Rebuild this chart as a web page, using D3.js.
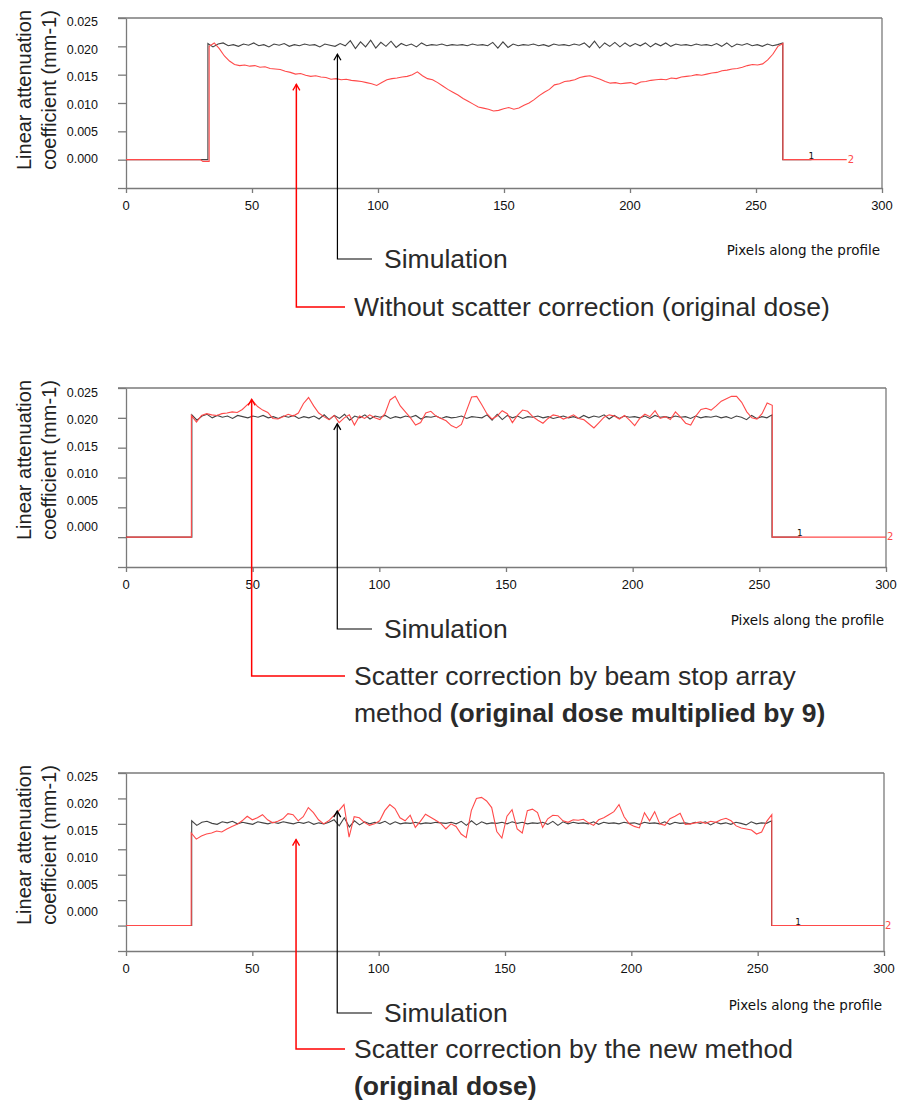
<!DOCTYPE html>
<html>
<head>
<meta charset="utf-8">
<script src="https://cdn.jsdelivr.net/npm/d3@7"></script>
<style>
  body { margin: 0; background: #fff; }
  svg { display: block; }
  .axis path, .axis line, .frame { stroke: #7a7a7a; stroke-width: 1.3; fill: none; }
  .tick-lbl { font-family: "Liberation Sans", Arial, sans-serif; font-size: 12.5px; fill: #111; }
  .xlbl { font-family: "Liberation Sans", Arial, sans-serif; font-size: 13px; fill: #111; }
  .ytitle { font-family: "Liberation Sans", Arial, sans-serif; font-size: 20px; fill: #222; }
  .pix { font-family: "DejaVu Sans", sans-serif; font-size: 13.5px; fill: #111; }
  .caption { font-family: "Liberation Sans", Arial, sans-serif; font-size: 26.5px; fill: #2a2a2a; }
</style>
</head>
<body>
<svg width="898" height="1111"></svg>
<script>
const svg = d3.select("svg");

// ---------- data ----------
const xTicks = [0, 50, 100, 150, 200, 250, 300];
const yTickLabels = [0.025, 0.020, 0.015, 0.010, 0.005, 0.000];

// panel 1 : simulation vs. no scatter correction
const simulation1 = [
  .0205,.0199,.0204,.0206,.0201,.0203,.0200,.0204,.0202,.0206,
  .0201,.0203,.0199,.0204,.0202,.0205,.0200,.0203,.0201,.0204,
  .0202,.0203,.0199,.0204,.0202,.0200,.0205,.0201,.0210,.0196,
  .0208,.0199,.0211,.0197,.0207,.0200,.0209,.0198,.0205,.0201,
  .0204,.0199,.0206,.0201,.0203,.0202,.0204,.0201,.0203,.0202,
  .0203,.0201,.0204,.0202,.0203,.0201,.0207,.0197,.0208,.0198,
  .0204,.0201,.0203,.0202,.0204,.0201,.0203,.0200,.0204,.0202,
  .0203,.0201,.0204,.0202,.0206,.0198,.0209,.0197,.0206,.0200,
  .0207,.0199,.0206,.0200,.0205,.0201,.0206,.0199,.0205,.0201,
  .0206,.0200,.0204,.0202,.0203,.0201,.0204,.0202,.0203,.0201,
  .0205,.0200,.0206,.0199,.0204,.0202,.0205,.0201,.0203,.0200,
  .0204,.0201,.0203,.0206
];
const withoutCorrection1 = [
  .0200,.0206,.0196,.0183,.0174,.0168,.0166,.0167,.0165,.0166,
  .0163,.0164,.0161,.0160,.0159,.0156,.0154,.0151,.0152,.0149,
  .0147,.0148,.0146,.0145,.0142,.0143,.0141,.0142,.0140,.0139,
  .0138,.0136,.0134,.0131,.0136,.0141,.0143,.0144,.0146,.0147,
  .0150,.0155,.0148,.0143,.0141,.0136,.0130,.0124,.0119,.0114,
  .0108,.0103,.0098,.0093,.0091,.0089,.0086,.0087,.0090,.0092,
  .0089,.0091,.0096,.0100,.0106,.0113,.0119,.0124,.0132,.0134,
  .0138,.0139,.0141,.0145,.0147,.0148,.0145,.0142,.0138,.0135,
  .0136,.0134,.0135,.0136,.0133,.0137,.0138,.0140,.0141,.0142,
  .0141,.0144,.0143,.0146,.0147,.0148,.0150,.0149,.0151,.0153,
  .0154,.0157,.0158,.0160,.0161,.0163,.0166,.0168,.0167,.0169,
  .0176,.0186,.0200,.0205
];
const withoutLead1 = [[0, 0], [29.5, 0], [30.5, -0.0003], [32.8, -0.0003]];

// panel 2 : simulation vs. beam stop array correction
const simulation2 = [
  .0205,.0196,.0203,.0206,.0200,.0204,.0201,.0203,.0199,.0204,
  .0202,.0200,.0203,.0201,.0204,.0200,.0202,.0199,.0203,.0201,
  .0204,.0199,.0202,.0200,.0203,.0198,.0205,.0197,.0204,.0199,
  .0206,.0196,.0203,.0200,.0205,.0198,.0203,.0201,.0204,.0199,
  .0202,.0200,.0203,.0201,.0204,.0198,.0202,.0201,.0203,.0199,
  .0202,.0200,.0201,.0203,.0199,.0202,.0201,.0200,.0205,.0196,
  .0206,.0197,.0204,.0200,.0203,.0199,.0202,.0201,.0203,.0200,
  .0202,.0199,.0201,.0203,.0200,.0202,.0199,.0204,.0200,.0203,
  .0201,.0205,.0198,.0204,.0199,.0203,.0201,.0202,.0200,.0203,
  .0199,.0204,.0201,.0202,.0200,.0203,.0201,.0202,.0199,.0203,
  .0200,.0202,.0201,.0203,.0200,.0202,.0199,.0203,.0201,.0197,
  .0204,.0199,.0202,.0200,.0205
];
const beamStop2 = [
  .0204,.0193,.0204,.0207,.0205,.0204,.0207,.0208,.0210,.0209,
  .0214,.0222,.0229,.0219,.0213,.0209,.0199,.0198,.0202,.0206,
  .0203,.0208,.0224,.0234,.0220,.0208,.0202,.0197,.0204,.0192,
  .0200,.0205,.0188,.0203,.0199,.0205,.0200,.0197,.0207,.0230,
  .0236,.0220,.0210,.0200,.0188,.0192,.0208,.0211,.0203,.0199,
  .0195,.0187,.0183,.0189,.0212,.0235,.0236,.0222,.0207,.0198,
  .0203,.0212,.0207,.0192,.0204,.0213,.0211,.0202,.0196,.0191,
  .0199,.0205,.0203,.0198,.0201,.0205,.0199,.0197,.0190,.0183,
  .0192,.0201,.0205,.0203,.0198,.0204,.0196,.0187,.0199,.0206,
  .0202,.0212,.0199,.0202,.0197,.0210,.0201,.0191,.0188,.0203,
  .0214,.0216,.0213,.0220,.0228,.0232,.0236,.0236,.0226,.0210,
  .0200,.0198,.0207,.0225,.0221
];

// panel 3 : simulation vs. new method
const simulation3 = [
  .0206,.0197,.0203,.0205,.0201,.0199,.0204,.0202,.0205,.0200,
  .0203,.0201,.0199,.0204,.0202,.0200,.0203,.0201,.0204,.0202,
  .0200,.0203,.0201,.0204,.0199,.0202,.0200,.0203,.0208,.0196,
  .0212,.0194,.0206,.0198,.0204,.0200,.0203,.0201,.0205,.0199,
  .0204,.0200,.0202,.0201,.0203,.0200,.0202,.0201,.0203,.0202,
  .0201,.0203,.0200,.0205,.0197,.0206,.0198,.0204,.0200,.0202,
  .0201,.0203,.0200,.0204,.0201,.0203,.0200,.0202,.0201,.0203,
  .0199,.0205,.0197,.0204,.0200,.0203,.0201,.0202,.0200,.0204,
  .0199,.0203,.0201,.0202,.0200,.0203,.0201,.0202,.0199,.0203,
  .0201,.0202,.0200,.0204,.0199,.0203,.0201,.0202,.0200,.0203,
  .0201,.0204,.0198,.0203,.0200,.0202,.0199,.0203,.0201,.0198,
  .0204,.0200,.0202,.0201,.0206
];
const newMethod3 = [
  .0182,.0170,.0176,.0180,.0182,.0186,.0184,.0190,.0195,.0199,
  .0206,.0215,.0208,.0212,.0218,.0208,.0202,.0205,.0210,.0220,
  .0218,.0206,.0214,.0232,.0222,.0208,.0200,.0206,.0216,.0226,
  .0238,.0174,.0214,.0212,.0203,.0197,.0200,.0206,.0226,.0238,
  .0230,.0212,.0206,.0217,.0193,.0205,.0219,.0213,.0207,.0201,
  .0190,.0200,.0195,.0180,.0173,.0226,.0250,.0252,.0245,.0232,
  .0185,.0172,.0215,.0228,.0190,.0182,.0226,.0229,.0222,.0193,
  .0210,.0217,.0216,.0206,.0203,.0208,.0207,.0209,.0202,.0197,
  .0208,.0212,.0218,.0224,.0238,.0214,.0200,.0195,.0192,.0222,
  .0206,.0224,.0200,.0197,.0210,.0215,.0221,.0199,.0200,.0202,
  .0204,.0201,.0205,.0203,.0208,.0211,.0206,.0196,.0192,.0190,
  .0188,.0180,.0184,.0205,.0218
];

// profile edges (pixels along the profile)
const simRise  = [32.5, 26, 26];
const measRise = [33, 25.8, 25.8];
const fallX    = [260.6, 255, 255.5];
const simEndX  = [272, 266, 266];
const measEndX = [286, 300, 300];

// arrow tips in data space [pixel, coefficient]
const simTips  = [[83.9, 0.0186], [83.4, 0.0190], [83.6, 0.0225]];
const measTips = [[67.6, 0.0133], [49.6, 0.0231], [67.3, 0.0169]];

// captions: each line = [regular part, bold part]
const measCaptions = [
  [["Without scatter correction (original dose)", ""]],
  [["Scatter correction by beam stop array", ""], ["method ", "(original dose multiplied by 9)"]],
  [["Scatter correction by the new method", ""], ["", "(original dose)"]]
];

const panels = [
  { sim: simulation1, meas: withoutCorrection1, measLead: withoutLead1, yMax: 0.025 },
  { sim: simulation2, meas: beamStop2, measLead: [[0, 0]], yMax: 0.025 },
  { sim: simulation3, meas: newMethod3, measLead: [[0, 0]], yMax: 0.030 }
];

// ---------- layout ----------
const left = 126;
const layout = [
  { top: 18,  bottom: 188, right: 882, lblTop: 22,  lblBot: 159, titleY: 90,  pixY: 250,  simY: 259,  measY: 307 },
  { top: 388, bottom: 567, right: 886, lblTop: 393, lblBot: 527, titleY: 460, pixY: 620,  simY: 629,  measY: 676 },
  { top: 773, bottom: 951, right: 884, lblTop: 777, lblBot: 912, titleY: 845, pixY: 1005, simY: 1013, measY: 1049 }
];

// arrow heads
const defs = svg.append("defs");
[["arrBlack", "#000"], ["arrRed", "#ff0000"]].forEach(([id, c]) => {
  defs.append("marker")
    .attr("id", id)
    .attr("viewBox", "-8 -5 10 10")
    .attr("refX", 0).attr("refY", 0)
    .attr("markerWidth", 10).attr("markerHeight", 10)
    .attr("markerUnits", "userSpaceOnUse")
    .attr("orient", "auto-start-reverse")
    .append("path")
    .attr("d", "M-6,-3.5L0,0L-6,3.5")
    .attr("fill", "none")
    .attr("stroke", c)
    .attr("stroke-width", 1.3);
});

function profile(lead, values, rise, fall, end) {
  const pts = lead.slice();
  pts.push([rise, lead[lead.length - 1][1]]);
  const dx = (fall - rise) / (values.length - 1);
  values.forEach((v, k) => pts.push([rise + k * dx, v]));
  pts.push([fall, 0], [end, 0]);
  return pts;
}

panels.forEach((P, i) => {
  const L = layout[i];
  const x = d3.scaleLinear().domain([0, 300]).range([left, L.right]);
  const y = d3.scaleLinear().domain([-0.005, P.yMax]).range([L.bottom, L.top]);
  const lbl = d3.scaleLinear().domain([0, 0.025]).range([L.lblBot, L.lblTop]);
  const g = svg.append("g");

  // frame
  g.append("line").attr("class", "frame")
    .attr("x1", left - 8).attr("x2", L.right).attr("y1", L.top).attr("y2", L.top);
  g.append("line").attr("class", "frame")
    .attr("x1", L.right).attr("x2", L.right).attr("y1", L.top).attr("y2", L.bottom);

  // axes
  g.append("g").attr("class", "axis")
    .attr("transform", `translate(${left},0)`)
    .call(d3.axisLeft(y).tickValues(y.ticks(7)).tickSize(8).tickSizeOuter(0).tickFormat(""));
  g.append("g").attr("class", "axis")
    .attr("transform", `translate(0,${L.bottom})`)
    .call(d3.axisBottom(x).tickValues(xTicks).tickSize(5).tickSizeOuter(0).tickFormat(""));

  g.selectAll("text.tick-lbl").data(yTickLabels).join("text")
    .attr("class", "tick-lbl")
    .attr("x", left - 28).attr("y", d => lbl(d)).attr("dy", "0.35em")
    .attr("text-anchor", "end")
    .text(d => d.toFixed(3));

  g.selectAll("text.xlbl").data(xTicks).join("text")
    .attr("class", "xlbl")
    .attr("x", d => x(d)).attr("y", L.bottom + 17).attr("dy", "0.35em")
    .attr("text-anchor", "middle")
    .text(d => d);

  // y title
  const t = g.append("text").attr("class", "ytitle")
    .attr("transform", `translate(0,${L.titleY}) rotate(-90)`)
    .attr("text-anchor", "middle");
  t.append("tspan").attr("x", 0).attr("y", 31).text("Linear attenuation");
  t.append("tspan").attr("x", 0).attr("y", 56).text("coefficient (mm-1)");

  g.append("text").attr("class", "pix")
    .attr("x", L.right - 2).attr("y", L.pixY).attr("dy", "0.35em")
    .attr("text-anchor", "end")
    .text("Pixels along the profile");

  // series
  const line = d3.line().x(d => x(d[0])).y(d => y(d[1]));
  const simPts = profile([[0, 0]], P.sim, simRise[i], fallX[i], simEndX[i]);
  const measPts = profile(P.measLead, P.meas, measRise[i], fallX[i] + 0.1, measEndX[i]);

  g.append("path").datum(simPts)
    .attr("d", line).attr("fill", "none")
    .attr("stroke", "#222").attr("stroke-width", 1.1).attr("stroke-opacity", 0.85);
  g.append("path").datum(measPts)
    .attr("d", line).attr("fill", "none")
    .attr("stroke", "#ff4a4a").attr("stroke-width", 1.1);

  g.append("text")
    .attr("x", x(simEndX[i])).attr("y", y(0) - 1)
    .attr("text-anchor", "middle")
    .attr("font-family", "DejaVu Sans, sans-serif").attr("font-size", 9)
    .attr("fill", "#111").text("1");
  g.append("text")
    .attr("x", x(measEndX[i]) + 1).attr("y", y(0) + 3)
    .attr("font-family", "DejaVu Sans, sans-serif").attr("font-size", 10)
    .attr("fill", "#ff4a4a").text("2");

  // annotations
  const st = simTips[i], mt = measTips[i];
  g.append("path")
    .attr("d", `M${x(st[0])},${y(st[1])}V${L.simY}H372`)
    .attr("fill", "none").attr("stroke", "#000").attr("stroke-width", 1.2)
    .attr("marker-start", "url(#arrBlack)");
  g.append("path")
    .attr("d", `M${x(mt[0])},${y(mt[1])}V${L.measY}H345`)
    .attr("fill", "none").attr("stroke", "#ff0000").attr("stroke-width", 1.5)
    .attr("marker-start", "url(#arrRed)");

  g.append("text").attr("class", "caption")
    .attr("x", 384).attr("y", L.simY).attr("dy", "0.35em")
    .text("Simulation");

  measCaptions[i].forEach((ln, k) => {
    const tx = g.append("text").attr("class", "caption")
      .attr("x", 354).attr("y", L.measY + k * 37).attr("dy", "0.35em");
    if (ln[0]) tx.append("tspan").text(ln[0]);
    if (ln[1]) tx.append("tspan").attr("font-weight", "bold").text(ln[1]);
  });
});
</script>
</body>
</html>
